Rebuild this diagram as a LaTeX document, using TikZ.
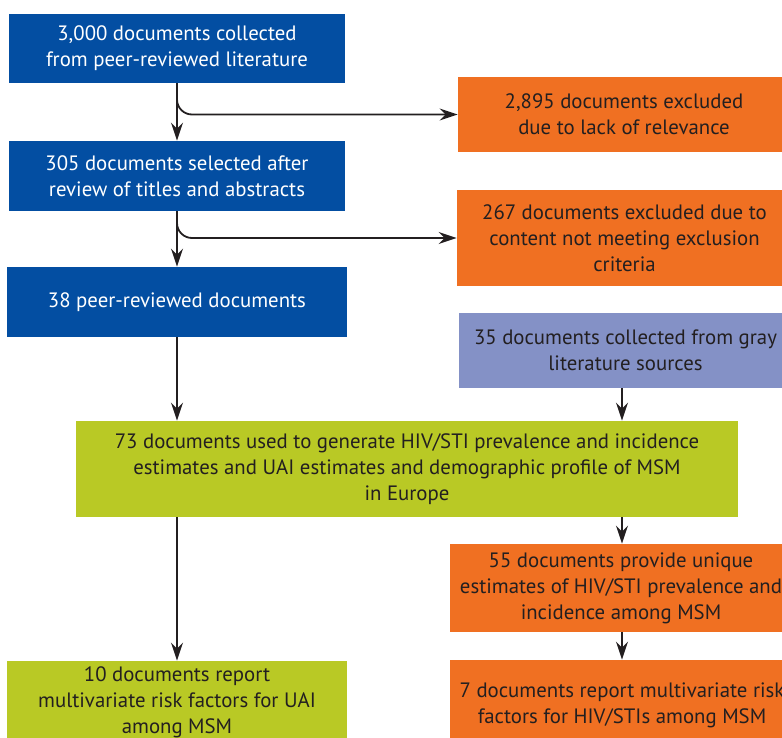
\documentclass[tikz,border=0pt]{standalone}
\usepackage{fontspec}
\setmainfont{PT Sans}
\usetikzlibrary{arrows.meta}
\definecolor{litblue}{HTML}{034EA2}
\definecolor{exclorange}{HTML}{F07022}
\definecolor{graylit}{HTML}{8491C6}
\definecolor{usedgreen}{HTML}{B9C925}
\definecolor{inkdark}{HTML}{231F20}

\begin{document}
\begin{tikzpicture}[x=0.5pt,y=-0.5pt,
  box/.style={draw=none, align=center, inner sep=0pt, text=inkdark,
    font=\fontsize{10.4}{13}\selectfont},
  peerbox/.style={box, fill=litblue, text=white},
  exclbox/.style={box, fill=exclorange},
  graybox/.style={box, fill=graylit},
  usedbox/.style={box, fill=usedgreen},
  flow/.style={-{Stealth[length=9pt,width=6pt,inset=3pt]}, line width=0.9pt, draw=inkdark}]
\useasboundingbox (0,0) rectangle (782,738);
\clip (0,0) rectangle (782,738);

\node[peerbox, minimum width=168pt, minimum height=34.5pt] (collected) at (177,48.5)
  {3,000 documents collected\\from peer-reviewed literature};
\node[peerbox, minimum width=168pt, minimum height=35pt] (selected) at (177,176)
  {305 documents selected after\\review of titles and abstracts};
\node[peerbox, minimum width=170pt, minimum height=35pt] (peer) at (177,302)
  {38 peer-reviewed documents};

\node[exclbox, minimum width=166pt, minimum height=37.5pt] (irrelevant) at (624,114.5)
  {2,895 documents excluded\\due to lack of relevance};
\node[exclbox, minimum width=167.5pt, minimum height=48pt] (excluded) at (624.5,238)
  {267 documents excluded due to\\content not meeting exclusion\\criteria};
\node[graybox, minimum width=166.5pt, minimum height=37.5pt] (gray) at (625.5,350.5)
  {35 documents collected from gray\\literature sources};

\node[usedbox, minimum width=331pt, minimum height=48pt] (used) at (407,469)
  {73 documents used to generate HIV/STI prevalence and incidence\\estimates and UAI estimates and demographic profile of MSM\\in Europe};

\node[exclbox, minimum width=171pt, minimum height=44pt] (unique) at (621,588)
  {55 documents provide unique\\estimates of HIV/STI prevalence and\\incidence among MSM};
\node[exclbox, minimum width=172pt, minimum height=45pt] (riskhiv) at (622,705)
  {7 documents report multivariate risk\\factors for HIV/STIs among MSM};
\node[usedbox, minimum width=170pt, minimum height=41pt] (riskuai) at (177,702)
  {10 documents report\\multivariate risk factors for UAI\\among MSM};

\draw[flow] (collected) -- (selected);
\draw[flow, rounded corners=7.5pt] (collected.south) |- (irrelevant.west);
\draw[flow] (selected) -- (peer);
\draw[flow, rounded corners=7.5pt] (selected.south) |- (excluded.west);
\draw[flow] (peer) -- (peer |- used.north);
\draw[flow] (gray.south -| 622,0) -- (622,0 |- used.north);
\draw[flow] (used.south -| 622,0) -- (unique.north -| 622,0);
\draw[flow] (unique.south -| 622,0) -- (riskhiv.north -| 622,0);
\draw[flow] (used.south -| peer) -- (riskuai);
\end{tikzpicture}
\end{document}
